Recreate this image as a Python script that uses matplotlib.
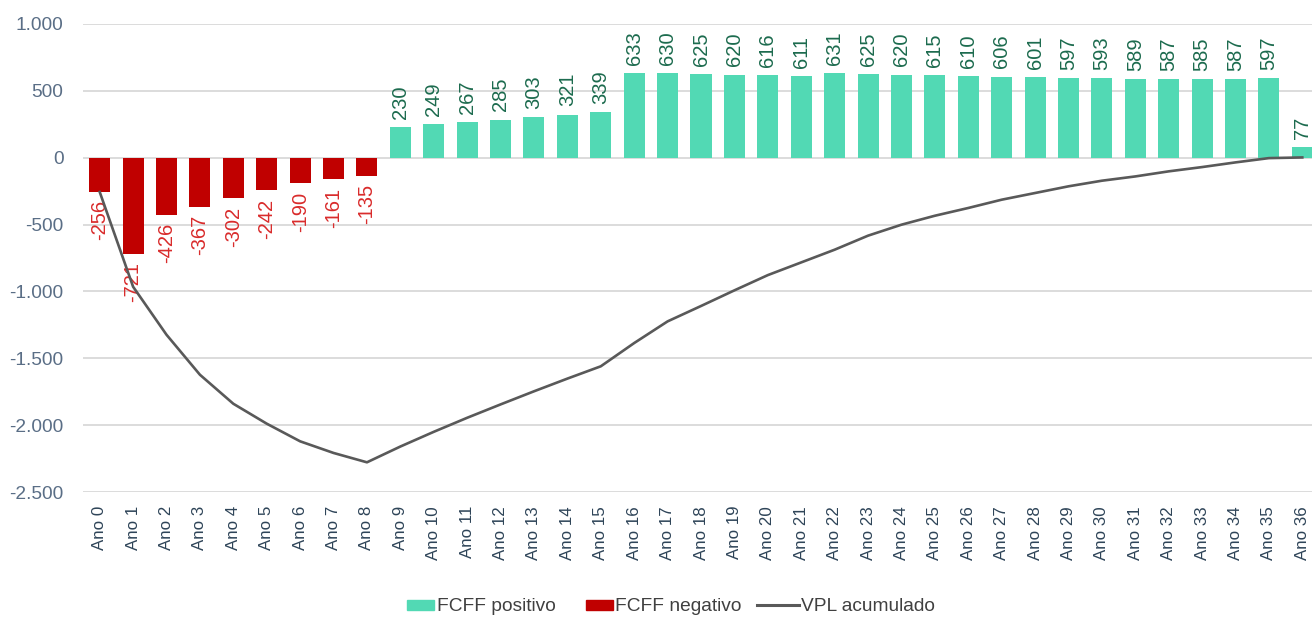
import numpy as np
import matplotlib
matplotlib.use("Agg")
import matplotlib.pyplot as plt
from matplotlib.patches import Rectangle
from matplotlib.lines import Line2D
from matplotlib.legend_handler import HandlerPatch
from matplotlib.ticker import FuncFormatter

# ---- data ----
categories = [f"Ano {i}" for i in range(37)]
fcff = [-256, -721, -426, -367, -302, -242, -190, -161, -135,
        230, 249, 267, 285, 303, 321, 339,
        633, 630, 625, 620, 616, 611, 631, 625, 620, 615, 610, 606,
        601, 597, 593, 589, 587, 585, 587, 597, 77]
vpl_acumulado = [-256, -965, -1324, -1623, -1840, -1989, -2121, -2208, -2278,
                 -2160, -2050, -1945, -1845, -1747, -1652, -1560,
                 -1386, -1224, -1109, -992, -878, -783, -688, -583, -501,
                 -434, -376, -314, -264, -214, -172, -140, -102, -70, -35, -3, 2]
y_ticks = [1000, 500, 0, -500, -1000, -1500, -2000, -2500]

# ---- style ----
plt.rcParams['font.family'] = ['Liberation Sans', 'DejaVu Sans']
C_POS = '#52D9B4'
C_NEG = '#C00000'
C_LINE = '#595959'
C_POS_LBL = '#1C6B4E'
C_NEG_LBL = '#D92B2B'
C_GRID = '#D9D9D9'

fig = plt.figure(figsize=(13.12, 6.17), dpi=100)
ax = fig.add_axes([83/1312, 1 - 492/617, 1236/1312, 468/617])

x = np.arange(len(categories))
vals = np.array(fcff, dtype=float)
pos = np.where(vals > 0, vals, np.nan)
neg = np.where(vals < 0, vals, np.nan)

bw = 0.63
ax.bar(x, pos, width=bw, color=C_POS, zorder=2, label='FCFF positivo')
ax.bar(x, neg, width=bw, color=C_NEG, zorder=2, label='FCFF negativo')
ax.plot(x, vpl_acumulado, color=C_LINE, lw=1.9, zorder=4, label='VPL acumulado')

for xi, v in zip(x, fcff):
    if v >= 0:
        ax.annotate(f"{v}", (xi, v), xytext=(0, 6), textcoords='offset points',
                    rotation=90, ha='center', va='bottom', fontsize=14.5,
                    color=C_POS_LBL, zorder=5)
    else:
        ax.annotate(f"{v}", (xi, v), xytext=(0, -6), textcoords='offset points',
                    rotation=90, ha='center', va='top', fontsize=14.5,
                    color=C_NEG_LBL, zorder=3)

ax.set_xlim(-0.5, len(categories) - 0.5)
ax.set_ylim(-2500, 1000)
ax.set_yticks(y_ticks)
ax.yaxis.set_major_formatter(FuncFormatter(lambda v, p: f"{int(v):,}".replace(",", ".")))
ax.grid(axis='y', color=C_GRID, lw=1.3, zorder=0)
ax.set_axisbelow(True)
for s in ax.spines.values():
    s.set_visible(False)
ax.set_xticks(x)
ax.set_xticklabels(categories, rotation=90, fontsize=12.2, color='#2E4458')
ax.tick_params(axis='x', length=0, pad=10)
ax.tick_params(axis='y', length=0, pad=14, labelsize=13.8, labelcolor='#5A6E86')

# legend with narrower patch handles
def patch_func(legend, orig_handle, xdescent, ydescent, width, height, fontsize):
    w = 19.4
    h = 7.2
    return Rectangle((width - w - xdescent, (height - h) / 2 - ydescent), w, h)

handles = [Rectangle((0, 0), 1, 1, color=C_POS),
           Rectangle((0, 0), 1, 1, color=C_NEG),
           Line2D([0], [0], color=C_LINE, lw=2.2)]
labels = ['FCFF positivo', 'FCFF negativo', 'VPL acumulado']
fig.legend(handles, labels, loc='center', bbox_to_anchor=(0.506, 0.017),
           ncol=3, frameon=False, fontsize=13.8, handlelength=2.19,
           handletextpad=0.12, columnspacing=0.8, labelcolor='#404040',
           handler_map={Rectangle: HandlerPatch(patch_func=patch_func)})

fig.savefig('out.png', dpi=100)
